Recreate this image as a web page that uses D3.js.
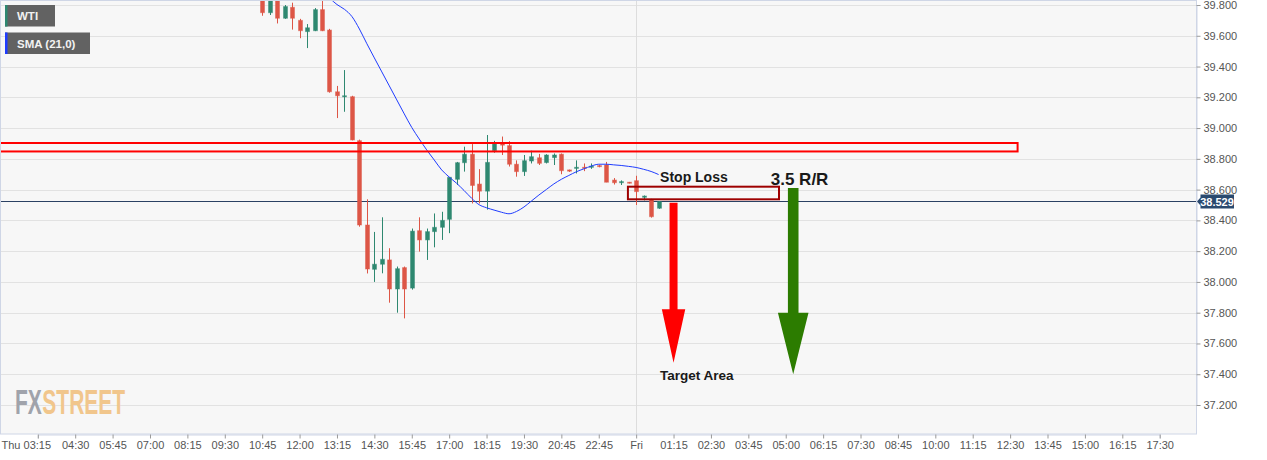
<!DOCTYPE html>
<html>
<head>
<meta charset="utf-8">
<script src="https://cdn.jsdelivr.net/npm/d3@7"></script>
<style>
  html, body { margin: 0; padding: 0; background: #fff; }
  svg { display: block; font-family: "Liberation Sans", Arial, sans-serif; }
</style>
</head>
<body>
<svg id="chart" width="1267" height="460"></svg>
<script>
// x tick labels, one every 5 candles (15 min candles)
var xLabels = ["Thu 03:15", "04:30", "05:45", "07:00", "08:15", "09:30", "10:45", "12:00", "13:15", "14:30",
    "15:45", "17:00", "18:15", "19:30", "20:45", "22:45", "Fri", "01:15", "02:30", "03:45",
    "05:00", "06:15", "07:30", "08:45", "10:00", "11:15", "12:30", "13:45", "15:00", "16:15", "17:30"];
var yTicks = [39.8, 39.6, 39.4, 39.2, 39.0, 38.8, 38.6, 38.4, 38.2, 38.0, 37.8, 37.6, 37.4, 37.2];

// candles, first one sits at candle index 30 (Thu 10:45)
var firstIndex = 30;
var opens = [39.86, 39.75, 39.84, 39.714, 39.785, 39.70, 39.627, 39.633, 39.77, 39.637,
    39.236, 39.21, 39.204, 38.918, 38.37, 38.082, 38.115, 38.143, 37.954, 38.093,
    37.96, 38.333, 38.273, 38.327, 38.355, 38.407, 38.667, 38.775, 38.83, 38.636,
    38.59, 38.853, 38.905, 38.886, 38.765, 38.717, 38.786, 38.807, 38.776, 38.808,
    38.83, 38.728, 38.738, 38.745, 38.745, 38.756, 38.76, 38.662, 38.645, 38.648,
    38.658, 38.55, 38.533, 38.479];
var highs = [39.90, 39.88, 39.86, 39.80, 39.815, 39.71, 39.676, 39.78, 39.85, 39.645,
    39.274, 39.377, 39.21, 38.925, 38.537, 38.325, 38.42, 38.219, 38.10, 38.10,
    38.347, 38.42, 38.347, 38.445, 38.456, 38.68, 38.78, 38.879, 38.896, 38.733,
    38.955, 38.917, 38.945, 38.915, 38.79, 38.825, 38.853, 38.832, 38.83, 38.835,
    38.835, 38.73, 38.79, 38.77, 38.77, 38.76, 38.78, 38.675, 38.66, 38.65,
    38.69, 38.562, 38.54, 38.525];
var lows = [39.73, 39.735, 39.68, 39.71, 39.64, 39.584, 39.52, 39.63, 39.63, 39.23,
    39.065, 39.106, 38.92, 38.359, 38.055, 38.0, 38.056, 37.865, 37.80, 37.763,
    37.95, 38.197, 38.143, 38.225, 38.273, 38.317, 38.63, 38.717, 38.51, 38.51,
    38.47, 38.84, 38.825, 38.75, 38.684, 38.689, 38.77, 38.76, 38.77, 38.76,
    38.70, 38.715, 38.705, 38.72, 38.735, 38.745, 38.648, 38.633, 38.63, 38.64,
    38.50, 38.53, 38.418, 38.475];
var closes = [39.75, 39.84, 39.714, 39.79, 39.714, 39.633, 39.652, 39.77, 39.633, 39.236,
    39.21, 39.21, 38.923, 38.37, 38.084, 38.115, 38.147, 37.954, 38.086, 37.954,
    38.33, 38.273, 38.327, 38.355, 38.40, 38.68, 38.775, 38.83, 38.627, 38.59,
    38.777, 38.896, 38.889, 38.765, 38.717, 38.788, 38.814, 38.771, 38.825, 38.825,
    38.723, 38.72, 38.745, 38.74, 38.752, 38.75, 38.648, 38.645, 38.652, 38.643,
    38.587, 38.558, 38.424, 38.522];

// SMA(21), starting at candle index 39
var smaStart = 39;
var smaValues = [39.846, 39.803, 39.772, 39.725, 39.644, 39.548, 39.456, 39.365, 39.274, 39.183,
    39.092, 39.004, 38.929, 38.858, 38.793, 38.728, 38.682, 38.641, 38.594, 38.544,
    38.502, 38.482, 38.467, 38.453, 38.443, 38.458, 38.487, 38.526, 38.565, 38.601,
    38.637, 38.667, 38.692, 38.716, 38.735, 38.753, 38.765, 38.765, 38.761, 38.757,
    38.751, 38.744, 38.732, 38.718, 38.698];

var lastPrice = 38.529;
var dayBreakIndex = 80;

// drawings: zones and arrows, in candle index / price units
var resistanceZone = { from: -10, to: 131, top: 38.903, bottom: 38.848 };
var stopLossZone = { from: 78.9, to: 99.1, top: 38.619, bottom: 38.537 };
var arrows = [
    { index: 85, top: 38.515, headStart: 37.822, tip: 37.475, color: "#ff0000", shaft: 4, head: 11.7 },
    { index: 101, top: 38.61, headStart: 37.80, tip: 37.40, color: "#2c7c00", shaft: 5.3, head: 15.3 }
];
var notes = [
    { text: "Stop Loss", index: 83.2, price: 38.652, size: 14 },
    { text: "3.5 R/R", index: 98, price: 38.627, size: 17 },
    { text: "Target Area", index: 83.2, price: 37.362, size: 13.5 }
];

var svg = d3.select("#chart");
var plotW = 1197, plotH = 434;

var x = d3.scaleLinear().domain([0, 150]).range([37.8, 1159.7]);
var y = d3.scaleLinear().domain([37.2, 39.8]).range([405, 5]);

svg.append("defs").append("clipPath").attr("id", "plotClip")
    .append("rect").attr("x", 0).attr("y", 0).attr("width", plotW).attr("height", plotH);

svg.append("rect")
    .attr("x", 0).attr("y", 0).attr("width", plotW).attr("height", plotH)
    .attr("fill", "#f7f7f7");

var plot = svg.append("g").attr("clip-path", "url(#plotClip)");

// grid
plot.selectAll(".hgrid").data(yTicks).enter().append("line")
    .attr("x1", 0).attr("x2", plotW)
    .attr("y1", function (d) { return Math.round(y(d)) + 0.5; })
    .attr("y2", function (d) { return Math.round(y(d)) + 0.5; })
    .attr("stroke", "#e2e2e2");
plot.append("line")
    .attr("x1", Math.round(x(dayBreakIndex)) + 0.5).attr("x2", Math.round(x(dayBreakIndex)) + 0.5)
    .attr("y1", 0).attr("y2", plotH)
    .attr("stroke", "#dddddd");

// FXStreet logo, squeezed horizontally
var logoG = plot.append("g").attr("transform", "translate(15,414) scale(0.6,1)");
var logoParts = [
    { text: "FX", x: 0, color: "#a0a3ab" },
    { text: "STREET", x: 45.5, color: "#f1c68c" }
];
logoG.selectAll(".logo").data(logoParts).enter().append("text")
    .attr("x", function (d) { return d.x; }).attr("y", 0)
    .attr("fill", function (d) { return d.color; })
    .style("font-size", "35px").style("font-weight", "bold")
    .text(function (d) { return d.text; });

// last price line
plot.append("line")
    .attr("x1", 0).attr("x2", plotW)
    .attr("y1", Math.round(y(lastPrice)) + 0.5).attr("y2", Math.round(y(lastPrice)) + 0.5)
    .attr("stroke", "#2b4163");

// candles
var candles = opens.map(function (o, i) {
    return { i: firstIndex + i, o: o, h: highs[i], l: lows[i], c: closes[i] };
});
var candleG = plot.selectAll(".candle").data(candles).enter().append("g").attr("class", "candle");
candleG.append("line")
    .attr("x1", function (d) { return Math.round(x(d.i)) + 0.5; })
    .attr("x2", function (d) { return Math.round(x(d.i)) + 0.5; })
    .attr("y1", function (d) { return y(d.h); })
    .attr("y2", function (d) { return y(d.l); })
    .attr("stroke", function (d) { return d.c >= d.o ? "#2e8870" : "#dd5646"; });
candleG.append("rect")
    .attr("x", function (d) { return Math.round(x(d.i)) - 1.5; })
    .attr("width", 4)
    .attr("y", function (d) { return y(Math.max(d.o, d.c)); })
    .attr("height", function (d) { return Math.max(1, Math.abs(y(d.o) - y(d.c))); })
    .attr("fill", function (d) { return d.c >= d.o ? "#2e8870" : "#dd5646"; })
    .attr("stroke", function (d) { return d.c >= d.o ? "rgba(46,136,112,0.45)" : "rgba(221,86,70,0.45)"; });

// SMA
var smaLine = d3.line()
    .x(function (d, i) { return x(smaStart + i); })
    .y(function (d) { return y(d); })
    .curve(d3.curveMonotoneX);
plot.append("path").datum(smaValues)
    .attr("d", smaLine)
    .attr("fill", "none").attr("stroke", "#1f3cff").attr("stroke-width", 1);

// drawings
plot.append("rect")
    .attr("x", x(resistanceZone.from)).attr("width", x(resistanceZone.to) - x(resistanceZone.from))
    .attr("y", y(resistanceZone.top)).attr("height", y(resistanceZone.bottom) - y(resistanceZone.top))
    .attr("fill", "none").attr("stroke", "#ff0000").attr("stroke-width", 2);
plot.append("rect")
    .attr("x", x(stopLossZone.from)).attr("width", x(stopLossZone.to) - x(stopLossZone.from))
    .attr("y", y(stopLossZone.top)).attr("height", y(stopLossZone.bottom) - y(stopLossZone.top))
    .attr("fill", "none").attr("stroke", "#9e0000").attr("stroke-width", 2);

plot.selectAll(".arrow").data(arrows).enter().append("path")
    .attr("d", function (d) {
        var cx = x(d.index);
        var pts = [
            [cx - d.shaft, y(d.top)], [cx + d.shaft, y(d.top)], [cx + d.shaft, y(d.headStart)],
            [cx + d.head, y(d.headStart)], [cx, y(d.tip)], [cx - d.head, y(d.headStart)],
            [cx - d.shaft, y(d.headStart)]
        ];
        return "M" + pts.join("L") + "Z";
    })
    .attr("fill", function (d) { return d.color; });

plot.selectAll(".note").data(notes).enter().append("text")
    .attr("x", function (d) { return x(d.index); })
    .attr("y", function (d) { return y(d.price); })
    .style("font-size", function (d) { return d.size + "px"; })
    .style("font-weight", "bold")
    .attr("fill", "#1a1a1a")
    .text(function (d) { return d.text; });

// plot border
svg.append("rect")
    .attr("x", 0.5).attr("y", 0.5).attr("width", plotW - 1).attr("height", plotH - 0.5)
    .attr("fill", "none").attr("stroke", "#cfd6e6");

// axes
var yAxis = svg.append("g")
    .attr("transform", "translate(" + (plotW - 0.5) + ",0)")
    .call(d3.axisRight(y).tickValues(yTicks).tickSize(4).tickPadding(3).tickFormat(d3.format(".3f")));
var xAxis = svg.append("g")
    .attr("transform", "translate(0," + (plotH + 0.5) + ")")
    .call(d3.axisBottom(x).tickValues(d3.range(0, 151, 5)).tickSize(4).tickPadding(3)
        .tickFormat(function (d, i) { return xLabels[i]; }));
[yAxis, xAxis].forEach(function (a) {
    a.select(".domain").attr("stroke", "#cfd6e6");
    a.selectAll(".tick line").attr("stroke", "#9a9a9a");
    a.selectAll(".tick text").attr("fill", "#555").style("font-size", "11px")
        .style("font-family", "'Liberation Sans', Arial, sans-serif");
});
xAxis.select(".tick text")
    .attr("text-anchor", "start")
    .attr("x", -x(0) + 1);

// last price label
var ly = Math.round(y(lastPrice)) + 0.5;
svg.append("path")
    .attr("d", "M1197," + ly + "L1200.5," + (ly - 4) + "V" + (ly - 7) + "H1234V" + (ly + 7) + "H1200.5V" + (ly + 4) + "Z")
    .attr("fill", "#2b4a6f");
svg.append("text")
    .attr("x", 1217).attr("y", ly + 4)
    .attr("text-anchor", "middle")
    .attr("fill", "#fff")
    .style("font-size", "11px").style("font-weight", "bold")
    .text(lastPrice.toFixed(3));

// legend
var legend = [
    { name: "WTI", color: "#2e8870", w: 50 },
    { name: "SMA (21,0)", color: "#1f3cff", w: 85 }
];
var lg = svg.selectAll(".legend").data(legend).enter().append("g")
    .attr("transform", function (d, i) { return "translate(5," + (5 + i * 27.5) + ")"; });
lg.append("rect").attr("width", function (d) { return d.w; }).attr("height", 21.5).attr("fill", "#626262");
lg.append("rect").attr("width", 2.5).attr("height", 21.5).attr("fill", function (d) { return d.color; });
lg.append("text").attr("x", 12).attr("y", 15)
    .attr("fill", "#f2f2f2")
    .style("font-size", "11.5px").style("font-weight", "bold")
    .text(function (d) { return d.name; });
</script>
</body>
</html>
